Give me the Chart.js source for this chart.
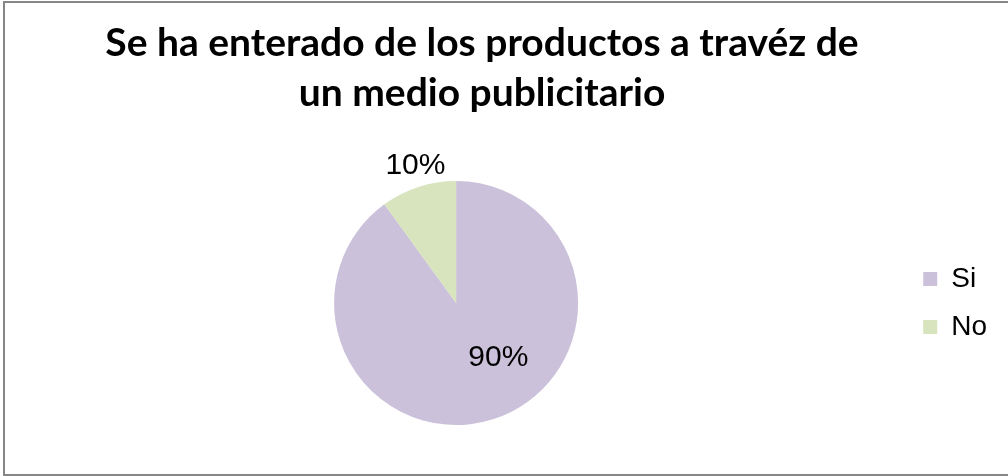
<!DOCTYPE html>
<html lang="es">
<head>
  <meta charset="UTF-8">
  <title>Medio publicitario</title>
  <script src="https://cdn.jsdelivr.net/npm/chart.js@4.4.1/dist/chart.umd.min.js"></script>
  <style>
    body { margin: 0; background: #fff; }
    #wrap { position: relative; width: 1008px; height: 476px; overflow: hidden; }
    #titulo {
      position: absolute; left: 82px; top: 16px; width: 800px; margin: 0;
      font: bold 39px/50px Lato, sans-serif; color: #000; text-align: center;
    }
    #marco {
      position: absolute; left: 3px; top: 1px; width: 1010px; height: 475px;
      box-sizing: border-box; border: 2px solid #868686; pointer-events: none;
    }
  </style>
</head>
<body>
  <div id="wrap">
    <canvas id="grafico"></canvas>
    <h1 id="titulo">Se ha enterado de los productos a travéz de<br>un medio publicitario</h1>
    <div id="marco"></div>
  </div>

  <script>
    const categorias = ['Si', 'No'];
    const valores = [90, 10];
    const colores = ['#CCC1DA', '#D7E4BD'];

    // where each percentage sits: fraction of the slice angle, fraction of the radius
    const posEtiquetas = [{ t: 0.44, r: 0.57 }, { t: 0.54, r: 1.17 }];

    const etiquetas = {
      id: 'etiquetas',
      afterDatasetsDraw(chart) {
        const ctx = chart.ctx;
        const total = valores.reduce((a, b) => a + b, 0);
        chart.getDatasetMeta(0).data.forEach((arc, i) => {
          const { x, y, startAngle, endAngle, outerRadius } =
            arc.getProps(['x', 'y', 'startAngle', 'endAngle', 'outerRadius'], true);
          const p = posEtiquetas[i];
          const ang = startAngle + (endAngle - startAngle) * p.t;
          const r = outerRadius * p.r;
          ctx.save();
          ctx.font = '30px "Liberation Sans", Arial, sans-serif';
          ctx.fillStyle = '#000';
          ctx.textAlign = 'center';
          ctx.textBaseline = 'middle';
          ctx.fillText(Math.round(valores[i] / total * 100) + '%', x + Math.cos(ang) * r, y + Math.sin(ang) * r);
          ctx.restore();
        });
      }
    };

    new Chart(document.getElementById('grafico'), {
      type: 'pie',
      data: {
        labels: categorias,
        datasets: [{
          data: valores,
          backgroundColor: colores,
          borderWidth: 0
        }]
      },
      options: {
        responsive: true,
        maintainAspectRatio: false,
        animation: false,
        layout: { padding: { left: 9, right: 11, top: 181, bottom: 51 } },
        plugins: {
          title: { display: false },
          legend: {
            position: 'right',
            fullSize: false,
            labels: {
              boxWidth: 14,
              boxHeight: 14,
              padding: 20,
              color: '#000',
              font: { family: '"Liberation Sans", Arial, sans-serif', size: 28 }
            }
          },
          tooltip: { enabled: false }
        }
      },
      plugins: [etiquetas]
    });
  </script>
</body>
</html>
